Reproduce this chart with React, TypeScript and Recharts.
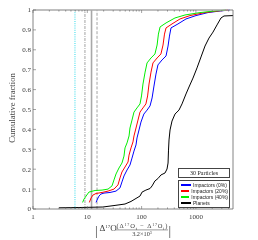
import React from "react";
import { LineChart, Line, XAxis, YAxis, ReferenceLine, Legend } from "recharts";

// cumulative fraction curves, [value, fraction]
const impactors0: [number, number][] = [
  [14.5, 0.033], [15.4, 0.05], [16.4, 0.065], [17.8, 0.075], [20.3, 0.08], [26.2, 0.083],
  [33.8, 0.09], [40.0, 0.106], [43.5, 0.136], [47.4, 0.166], [53.9, 0.196], [61.1, 0.221],
  [66.6, 0.256], [72.4, 0.291], [78.9, 0.322], [82.3, 0.357], [89.6, 0.397], [97.4, 0.437],
  [110, 0.477], [126, 0.497], [143, 0.518], [156, 0.558], [169, 0.618], [184, 0.678],
  [200, 0.724], [238, 0.749], [282, 0.769], [307, 0.819], [326, 0.869], [348, 0.91],
  [468, 0.93], [657, 0.955], [1005, 0.972], [1670, 0.987], [2780, 0.995], [4250, 1.0],
];

const impactors20: [number, number][] = [
  [10.9, 0.033], [11.7, 0.055], [12.7, 0.07], [14.5, 0.078], [18.7, 0.083], [24.1, 0.09],
  [31.0, 0.1], [36.7, 0.121], [40.0, 0.156], [43.5, 0.186], [49.5, 0.211], [56.2, 0.236],
  [58.7, 0.271], [63.8, 0.307], [69.4, 0.337], [72.4, 0.367], [78.9, 0.407], [85.8, 0.447],
  [93.4, 0.487], [106, 0.508], [120, 0.528], [129, 0.568], [137, 0.628], [149, 0.688],
  [162, 0.734], [193, 0.759], [227, 0.779], [248, 0.824], [264, 0.879], [282, 0.91],
  [363, 0.93], [510, 0.955], [778, 0.972], [1470, 0.987], [2550, 0.995], [3900, 1.0],
];

const impactors40: [number, number][] = [
  [8.2, 0.033], [8.7, 0.05], [9.5, 0.065], [10.7, 0.085], [13.9, 0.093], [18.7, 0.095],
  [24.1, 0.1], [28.5, 0.116], [31.0, 0.146], [33.8, 0.176], [38.3, 0.206], [43.5, 0.231],
  [47.4, 0.266], [49.5, 0.307], [53.9, 0.332], [58.7, 0.367], [61.1, 0.407], [66.6, 0.447],
  [72.4, 0.487], [82.3, 0.508], [93.4, 0.528], [99.6, 0.568], [106, 0.628], [116, 0.688],
  [126, 0.734], [149, 0.759], [176, 0.779], [193, 0.824], [204, 0.879], [219, 0.915],
  [282, 0.935], [412, 0.96], [630, 0.975], [1190, 0.987], [2250, 0.995], [3590, 1.0],
];

const planets: [number, number][] = [
  [3.01, 0.006], [7.33, 0.0075], [19.4, 0.01], [32.4, 0.018], [49.5, 0.025], [63.8, 0.038],
  [78.9, 0.053], [93.4, 0.065], [102, 0.085], [120, 0.095], [143, 0.103], [156, 0.116],
  [176, 0.141], [200, 0.153], [227, 0.171], [270, 0.181], [294, 0.201], [307, 0.231],
  [313, 0.296], [320, 0.347], [334, 0.397], [363, 0.442], [412, 0.477], [488, 0.497],
  [555, 0.528], [657, 0.578], [746, 0.613], [884, 0.658], [1048, 0.709], [1242, 0.764],
  [1472, 0.819], [1743, 0.859], [2066, 0.889], [2448, 0.925], [2899, 0.96], [3293, 0.97],
  [4820, 0.972],
];

// vertical markers
const markers = [5.93, 9.05, 11.97, 15.1];

const xDomain = [1, 4823];
const majorX = [1, 10, 100, 1000];
const minorMult = [2, 3, 4, 5, 6, 7, 8, 9];
const yTicks = [0, 0.1, 0.2, 0.3, 0.4, 0.5, 0.6, 0.7, 0.8, 0.9, 1];

const xTicks = majorX
  .flatMap((d) => [d, ...minorMult.map((m) => d * m)])
  .filter((v) => v <= xDomain[1]);

const series = [
  { name: "Impactors (0%)", data: impactors0, color: "#0000ff" },
  { name: "Impactors (20%)", data: impactors20, color: "#ff0000" },
  { name: "Impactors (40%)", data: impactors40, color: "#00ee00" },
  { name: "Planets", data: planets, color: "#000000" },
];

const markerStyles = [
  { stroke: "#19d6e6", dash: "1 1.2", width: 0.9 },
  { stroke: "#9a9a9a", dash: "3 1 1 1", width: 0.9 },
  { stroke: "#a8a8a8", dash: undefined, width: 1.6 },
  { stroke: "#9a9a9a", dash: "3 1.6", width: 0.9 },
];

const SERIF = "'Liberation Serif', 'DejaVu Serif', serif";
const AXIS = "#666";
const TEXT = "#3a3a3a";

const BottomTick = (props: any) => {
  const { x, y, payload } = props;
  const major = majorX.includes(payload.value);
  return (
    <g>
      <line x1={x} x2={x} y1={y} y2={y - (major ? 3 : 1.6)} stroke={AXIS} strokeWidth={0.6} />
      {major && (
        <text x={x} y={y + 10} textAnchor="middle" fontSize={7} fontFamily={SERIF} style={{ fill: TEXT }}>
          {payload.value}
        </text>
      )}
    </g>
  );
};

const TopTick = (props: any) => {
  const { x, y, payload } = props;
  const major = majorX.includes(payload.value);
  return <line x1={x} x2={x} y1={y} y2={y + (major ? 3 : 1.6)} stroke={AXIS} strokeWidth={0.6} />;
};

const LeftTick = (props: any) => {
  const { x, y, payload } = props;
  return (
    <g>
      <line x1={x} x2={x + 3} y1={y} y2={y} stroke={AXIS} strokeWidth={0.6} />
      <text x={x - 2} y={y + 2.4} textAnchor="end" fontSize={7} fontFamily={SERIF} style={{ fill: TEXT }}>
        {String(Math.round(payload.value * 10) / 10)}
      </text>
    </g>
  );
};

const RightTick = (props: any) => {
  const { x, y } = props;
  return <line x1={x} x2={x - 3} y1={y} y2={y} stroke={AXIS} strokeWidth={0.6} />;
};

const renderLegend = (props: any) => {
  const { payload } = props;
  return (
    <div style={{ width: 52 }}>
      <div
        style={{
          height: 8,
          border: "1px solid #444",
          fontFamily: SERIF,
          fontSize: 6,
          lineHeight: "8px",
          textAlign: "center",
          color: "#222",
          background: "#fff",
        }}
      >
        30 Particles
      </div>
      <div style={{ marginTop: 2, border: "1px solid #444", padding: "1px 1px 1px", background: "#fff" }}>
        {payload.map((p: any) => (
          <div key={p.value} style={{ display: "flex", alignItems: "center", height: 6 }}>
            <span style={{ width: 10, height: 1.4, background: p.color, marginLeft: 1 }} />
            <span
              style={{
                marginLeft: 2,
                fontSize: 5,
                whiteSpace: "nowrap",
                fontFamily: "'Liberation Sans', Arial, sans-serif",
                color: "#222",
              }}
            >
              {p.value}
            </span>
          </div>
        ))}
      </div>
    </div>
  );
};

export default function App() {
  return (
    <div style={{ position: "absolute", left: 0, top: 0, width: 258, height: 240, willChange: "transform" }}>
      <LineChart width={258} height={240} margin={{ top: 0, right: 0, bottom: 0, left: 0 }}>
        <XAxis
          xAxisId="b"
          dataKey="x"
          type="number"
          scale="log"
          domain={xDomain}
          allowDataOverflow
          ticks={xTicks}
          interval={0}
          height={31}
          tickSize={0}
          tickMargin={0}
          tickLine={false}
          tick={<BottomTick />}
          axisLine={{ stroke: AXIS, strokeWidth: 0.8 }}
        />
        <XAxis
          xAxisId="t"
          orientation="top"
          dataKey="x"
          type="number"
          scale="log"
          domain={xDomain}
          allowDataOverflow
          ticks={xTicks}
          interval={0}
          height={10}
          tickSize={0}
          tickMargin={0}
          tickLine={false}
          tick={<TopTick />}
          axisLine={{ stroke: "#aaa", strokeWidth: 1.4 }}
        />
        <YAxis
          yAxisId="l"
          type="number"
          domain={[0, 1]}
          ticks={yTicks}
          interval={0}
          width={33}
          tickSize={0}
          tickMargin={0}
          tickLine={false}
          tick={<LeftTick />}
          axisLine={{ stroke: AXIS, strokeWidth: 0.8 }}
        />
        <YAxis
          yAxisId="r"
          orientation="right"
          type="number"
          domain={[0, 1]}
          ticks={yTicks}
          interval={0}
          width={25}
          tickSize={0}
          tickMargin={0}
          tickLine={false}
          tick={<RightTick />}
          axisLine={{ stroke: AXIS, strokeWidth: 0.8 }}
        />
        {markers.map((m, i) => (
          <ReferenceLine
            key={m}
            x={m}
            xAxisId="b"
            yAxisId="l"
            stroke={markerStyles[i].stroke}
            strokeWidth={markerStyles[i].width}
            strokeDasharray={markerStyles[i].dash}
          />
        ))}
        {series.map((s) => (
          <Line
            key={s.name}
            name={s.name}
            xAxisId="b"
            yAxisId="l"
            data={s.data.map(([x, y]) => ({ x, y }))}
            dataKey="y"
            type="linear"
            stroke={s.color}
            strokeWidth={1}
            dot={false}
            isAnimationActive={false}
          />
        ))}
        <Legend
          layout="vertical"
          align="center"
          verticalAlign="middle"
          content={renderLegend}
          wrapperStyle={{ left: 178, top: 168, width: 52 }}
        />
        <text
          transform="translate(15,108) rotate(-90)"
          textAnchor="middle"
          fontSize={8.7}
          fontFamily={SERIF}
          style={{ fill: "#444" }}
        >
          Cumulative fraction
        </text>
        <g fontFamily={SERIF} style={{ fill: TEXT }}>
          <text x={95} y={234.5} fontSize={13}>|</text>
          <text x={99.5} y={231} fontSize={9}>
            Δ<tspan dy={-3.2} fontSize={5}>17</tspan>
            <tspan dy={3.2}>O</tspan>
          </text>
          <text x={116.5} y={228.3} fontSize={6.5} textLength={51}>
            (Δ<tspan dy={-2} fontSize={4}>17</tspan>
            <tspan dy={2}>O</tspan>
            <tspan dy={1.2} fontSize={4}>t</tspan>
            <tspan dy={-1.2}> − Δ</tspan>
            <tspan dy={-2} fontSize={4}>17</tspan>
            <tspan dy={2}>O</tspan>
            <tspan dy={1.2} fontSize={4}>i</tspan>
            <tspan dy={-1.2}>)</tspan>
          </text>
          <line x1={116} x2={168} y1={229.9} y2={229.9} stroke={TEXT} strokeWidth={0.5} />
          <text x={142} y={236} fontSize={6.3} textAnchor="middle">
            3.2×10<tspan dy={-2} fontSize={4}>3</tspan>
          </text>
          <text x={168.5} y={234.5} fontSize={13}>|</text>
        </g>
      </LineChart>
    </div>
  );
}
